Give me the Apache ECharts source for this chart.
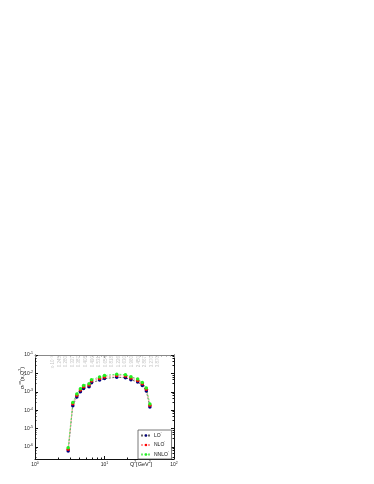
<!DOCTYPE html>
<html><head><meta charset="utf-8">
<script src="https://cdn.jsdelivr.net/npm/echarts@6/dist/echarts.min.js"></script>
<style>html,body{margin:0;padding:0;background:#fff}#c{width:374px;height:484px}</style>
</head><body><div id="c"></div>
<script>
// Q^2 values [GeV^2]
const q2 = [3, 3.5, 4, 4.5, 5, 6, 6.5, 8.5, 10, 15, 20, 24, 30, 35, 40, 45];
// series values
const lo   = [5.9e-7, 1.75e-4, 5.2e-4, 1.0e-3, 1.5e-3, 1.9e-3, 3.1e-3, 4.3e-3, 5.2e-3, 6.2e-3, 5.8e-3, 4.5e-3, 3.4e-3, 2.2e-3, 1.1e-3, 1.5e-4];
const nlo  = [7.4e-7, 2.2e-4, 6.4e-4, 1.25e-3, 1.85e-3, 2.35e-3, 3.85e-3, 5.3e-3, 6.4e-3, 7.7e-3, 7.2e-3, 5.6e-3, 4.1e-3, 2.7e-3, 1.35e-3, 1.85e-4];
const nnlo = [8.9e-7, 2.6e-4, 7.6e-4, 1.48e-3, 2.19e-3, 2.75e-3, 4.57e-3, 6.3e-3, 7.6e-3, 9.1e-3, 8.5e-3, 6.6e-3, 4.9e-3, 3.16e-3, 1.58e-3, 2.19e-4];
// x-values annotated along the top (x·10^-3)
const topLabels = ['x·10⁻³', '0.245', '0.280', '0.327', '0.387', '0.408', '0.490', '0.531', '0.654', '0.818', '1.226', '1.630', '1.960', '2.450', '2.867', '3.270', '3.870'];
const seriesNames = ['LO', 'NLO', 'NNLO'];

const chart = echarts.init(document.getElementById('c'));
const powLabel = v => {
  const e = Math.round(Math.log10(v));
  return '{b|10}{s|' + e + '}';
};
const tickRich = { b: { fontSize: 5, color: '#222' }, s: { fontSize: 3.5, color: '#222', padding: [0, 0, 3, 0] } };
const YMIN = 2.2e-7, YMAX = 0.1;

chart.setOption({
  backgroundColor: '#fff',
  animation: false,
  textStyle: { fontFamily: 'Liberation Sans, Arial, sans-serif' },
  grid: [
    { left: 35, right: 200, top: 355, bottom: 25 },
    { left: 53, width: 105, top: 355, height: 20 }
  ],
  xAxis: [
    { type: 'log', gridIndex: 0, min: 1, max: 100, position: 'bottom',
      axisLine: { lineStyle: { color: '#111', width: 1 } },
      axisTick: { inside: true, length: 3, lineStyle: { color: '#111' } },
      minorTick: { show: true, splitNumber: 8, length: 1.5, lineStyle: { color: '#111' } },
      splitLine: { show: false },
      axisLabel: { formatter: powLabel, rich: tickRich, margin: 2 } },
    { type: 'log', gridIndex: 0, min: 1, max: 100, position: 'top',
      axisLine: { lineStyle: { color: '#888', width: 1 } },
      axisTick: { inside: true, length: 3, lineStyle: { color: '#888' } },
      minorTick: { show: true, splitNumber: 8, length: 1.5, lineStyle: { color: '#888' } },
      splitLine: { show: false }, axisLabel: { show: false } },
    { type: 'category', gridIndex: 1, data: topLabels, position: 'top', boundaryGap: false,
      axisLine: { show: false }, axisTick: { show: false }, splitLine: { show: false },
      axisLabel: { inside: true, rotate: 90, fontSize: 4.5, color: '#c4c4c4', margin: 1, interval: 0 } }
  ],
  yAxis: [
    { type: 'log', gridIndex: 0, min: YMIN, max: YMAX, position: 'left',
      axisLine: { show: true, lineStyle: { color: '#111', width: 1 } },
      axisTick: { show: true, inside: true, length: 3, lineStyle: { color: '#111' } },
      minorTick: { show: true, splitNumber: 5, length: 1.5, lineStyle: { color: '#111' } },
      splitLine: { show: false },
      axisLabel: { formatter: powLabel, rich: tickRich, margin: 2, showMinLabel: false } },
    { type: 'log', gridIndex: 0, min: YMIN, max: YMAX, position: 'right',
      axisLine: { show: true, lineStyle: { color: '#111', width: 1 } },
      axisTick: { show: true, inside: true, length: 3, lineStyle: { color: '#111' } },
      minorTick: { show: true, splitNumber: 5, length: 1.5, lineStyle: { color: '#111' } },
      splitLine: { show: false }, axisLabel: { show: false } },
    { type: 'value', gridIndex: 1, show: false }
  ],
  legend: {
    orient: 'vertical', left: 138, top: 430,
    itemWidth: 10, itemHeight: 3, itemGap: 3.5,
    borderColor: '#555', borderWidth: 0.8, padding: [2, 3, 2, 2],
    backgroundColor: '#fff',
    textStyle: { fontSize: 5, color: '#111', padding: [0, 0, 0, -2], rich: { s: { fontSize: 3.5, padding: [0, 0, 3, 0] } } },
    formatter: n => n + "{s|'}",
    data: seriesNames
  },
  series: [
    { name: 'LO', type: 'line', xAxisIndex: 0, yAxisIndex: 0,
      data: q2.map((x, i) => [x, lo[i]]), symbol: 'circle', symbolSize: 3.5,
      itemStyle: { color: '#000080' }, lineStyle: { color: '#666', width: 1, type: [2, 1.5] } },
    { name: 'NLO', type: 'line', xAxisIndex: 0, yAxisIndex: 0,
      data: q2.map((x, i) => [x, nlo[i]]), symbol: 'circle', symbolSize: 3.5,
      itemStyle: { color: '#ff0000' }, lineStyle: { color: '#ff9a9a', width: 1, type: [2, 1.5] } },
    { name: 'NNLO', type: 'line', xAxisIndex: 0, yAxisIndex: 0,
      data: q2.map((x, i) => [x, nnlo[i]]), symbol: 'circle', symbolSize: 3.5,
      itemStyle: { color: '#22ee22' }, lineStyle: { color: '#66ee66', width: 1, type: [2, 1.5] } }
  ],
  graphic: [
    { type: 'text', x: 22, y: 378, rotation: Math.PI / 2,
      style: { text: '{a|σ}{sb|r}{sp|cc̄}{a|(x,Q}{sp|2}{a|)}', textAlign: 'center', textVerticalAlign: 'middle',
        rich: { a: { fontSize: 5.5, fill: '#111', fontFamily: 'Liberation Sans' },
                sb: { fontSize: 3.5, fill: '#111', padding: [3, 0, 0, 0] },
                sp: { fontSize: 3.5, fill: '#111', padding: [0, 0, 3, 0] } } } },
    { type: 'text', x: 141, y: 464,
      style: { text: '{a|Q}{sp|2}{a|[GeV}{sp|2}{a|]}', textAlign: 'center', textVerticalAlign: 'middle',
        rich: { a: { fontSize: 5.5, fill: '#111', fontFamily: 'Liberation Sans' },
                sp: { fontSize: 3.5, fill: '#111', padding: [0, 0, 3, 0] } } } }
  ]
});
</script>
</body></html>
